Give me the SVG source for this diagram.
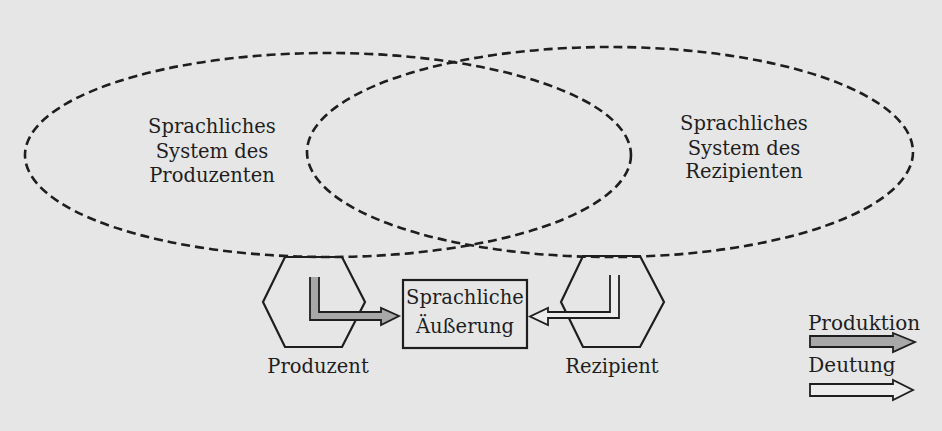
<svg xmlns="http://www.w3.org/2000/svg" width="942" height="431" viewBox="0 0 942 431">
<style>
.t{font-family:"DejaVu Serif","Liberation Serif",serif;font-size:19.5px;fill:#1e1e1e;text-anchor:middle}
.sys{fill:none;stroke:#1e1e1e;stroke-width:2.6;stroke-dasharray:9 5}
.hex{fill:none;stroke:#1e1e1e;stroke-width:2.2;stroke-linejoin:miter}
.box{fill:none;stroke:#1e1e1e;stroke-width:2.2}
.arr{stroke:#1e1e1e;stroke-width:1.8;stroke-linejoin:miter}
.prod{fill:#a8a8a8}
.deut{fill:#ececec}
</style>
<rect width="942" height="431" fill="#e6e6e6"/>
<g id="system-produzent">
<ellipse class="sys" cx="328" cy="155" rx="303" ry="102"/>
<text class="t" x="212" y="133">Sprachliches</text>
<text class="t" x="212" y="158">System des</text>
<text class="t" x="212" y="182">Produzenten</text>
</g>
<g id="system-rezipient">
<ellipse class="sys" cx="610" cy="152" rx="303" ry="105"/>
<text class="t" x="744" y="130">Sprachliches</text>
<text class="t" x="744" y="155">System des</text>
<text class="t" x="744" y="178">Rezipienten</text>
</g>
<g id="produzent">
<polygon class="hex" points="285,257 342,257 365,302 342,347 285,347 263,302"/>
<text class="t" x="318" y="373">Produzent</text>
</g>
<g id="rezipient">
<polygon class="hex" points="583,256 640,256 664,302 640,347 583,347 561,302"/>
<text class="t" x="612" y="373">Rezipient</text>
</g>
<g id="aeusserung">
<rect class="box" x="403" y="280" width="124" height="68"/>
<text class="t" x="465" y="304">Sprachliche</text>
<text class="t" x="465" y="333">Äußerung</text>
</g>
<g id="connectors">
<path class="arr prod" d="M319,277 L319,312 L381,312 L381,308 L399,316 L381,325 L381,320 L310,320 L310,277"/>
<path class="arr deut" d="M610,275 L610,312 L548,312 L548,308 L530,316.5 L548,325 L548,318 L619,318 L619,275"/>
</g>
<g id="legend">
<text class="t" x="864" y="330" style="font-size:20px">Produktion</text>
<path class="arr prod" d="M810,336 L893,336 L893,333 L915,342 L893,352 L893,347 L810,347 Z"/>
<text class="t" x="852" y="372" style="font-size:20px">Deutung</text>
<path class="arr deut" d="M810,384 L893,384 L893,380 L913,390 L893,400 L893,396 L810,396 Z"/>
</g>
</svg>
